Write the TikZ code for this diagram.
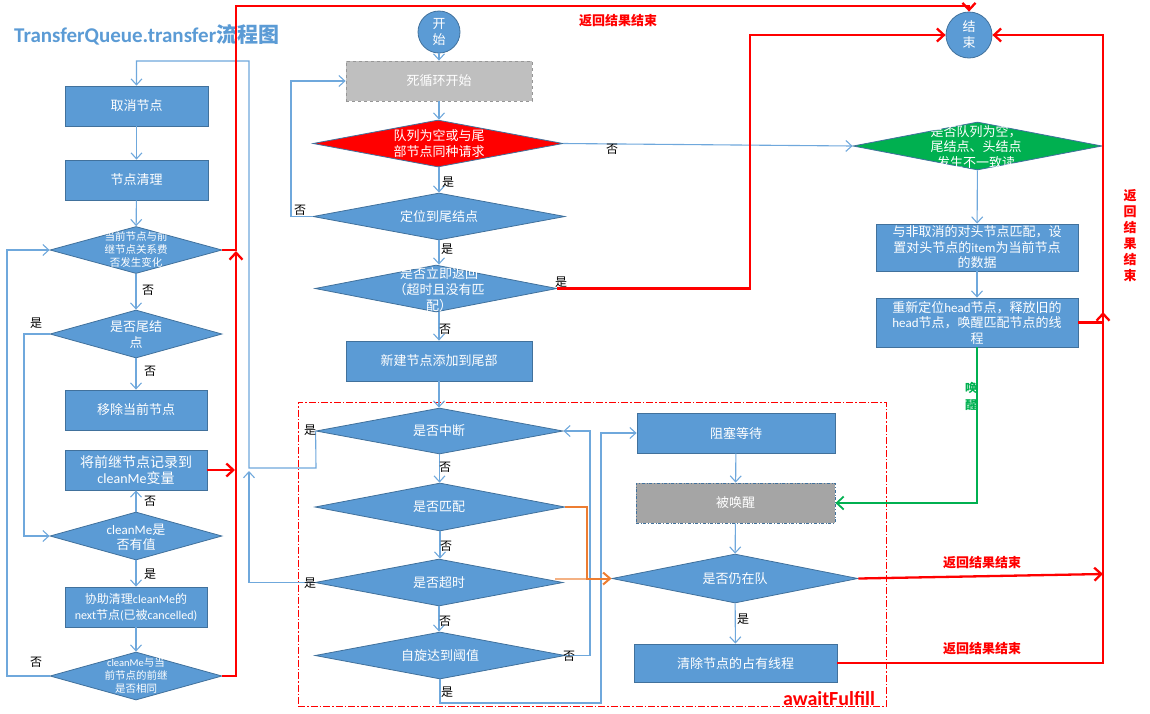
\documentclass[tikz,border=0pt]{standalone}
\usepackage{fontspec}
\setmainfont{Noto Sans CJK SC}
\newfontfamily\lat{Carlito}
\usetikzlibrary{shapes.geometric,arrows.meta}

\definecolor{boxblue}{HTML}{5B9BD5}
\definecolor{boxedge}{HTML}{41719C}
\definecolor{linkblue}{HTML}{6FA8DC}
\definecolor{flowred}{HTML}{FF0000}
\definecolor{flowgreen}{HTML}{00B050}
\definecolor{floworange}{HTML}{ED7D31}
\definecolor{grayA}{HTML}{BFBFBF}
\definecolor{grayB}{HTML}{A5A5A5}

\tikzset{
  boxnode/.style={draw=boxedge, fill=boxblue, line width=0.8pt, text=white,
    font=\fontsize{13}{16}\selectfont, align=center, inner sep=0pt},
  dianode/.style={diamond, draw=boxedge, fill=boxblue, line width=0.8pt, inner sep=0pt},
  dlab/.style={text=white, align=center, font=\fontsize{13}{16}\selectfont, inner sep=0pt},
  dlabs/.style={text=white, align=center, font=\fontsize{10.5}{13}\selectfont, inner sep=0pt},
  circnode/.style={circle, draw=boxedge, fill=boxblue, line width=0.8pt, text=white,
    align=center, font=\fontsize{13}{16}\selectfont, inner sep=0pt},
  graybox/.style={draw={rgb,255:red,150;green,150;blue,150}, dashed, fill=grayA, line width=0.8pt,
    text=white, font=\fontsize{13}{16}\selectfont, inner sep=0pt},
  graybox2/.style={draw=boxedge, dash dot, fill=grayB, line width=0.8pt,
    text=white, font=\fontsize{13}{16}\selectfont, inner sep=0pt},
  awaitbox/.style={draw=flowred, line width=0.9pt, dash pattern=on 7pt off 2pt on 1.5pt off 2pt, inner sep=0pt},
  link/.style={draw=linkblue, line width=1.1pt, -{Straight Barb[length=6pt,width=11pt]}},
  redlink/.style={draw=flowred, line width=2.3pt, -{Straight Barb[length=7pt,width=13pt]}},
  grnlink/.style={draw=flowgreen, line width=1.8pt, -{Straight Barb[length=7pt,width=13pt]}},
  orglink/.style={draw=floworange, line width=2pt, -{Straight Barb[length=7pt,width=12pt]}},
  orgfaint/.style={draw=floworange!60, line width=2pt},
  yn/.style={font=\fontsize{12}{12}\selectfont, inner sep=0pt, text=black},
  redtxt/.style={font=\fontsize{13}{16}\selectfont\bfseries, text=flowred, inner sep=0pt, align=center},
}

\begin{document}
\begin{tikzpicture}[x=1pt, y=-1pt]
\useasboundingbox (0,0) rectangle (1150,713);

% title
\node[font=\fontsize{21}{21}\selectfont\bfseries, text=boxblue, anchor=west, inner sep=0pt]
  (title) at (14,35) {{\lat TransferQueue.transfer}流程图};

% region of awaitFulfill
\node[awaitbox, minimum width=588, minimum height=304] (aw) at (592,554) {};
\node[font=\lat\bfseries\fontsize{20}{20}\selectfont, text=flowred, inner sep=0pt]
  (awlab) at (829,699) {awaitFulfill};

% ---------- left column: cleanup of a cancelled node ----------
\node[boxnode, minimum width=143, minimum height=40] (qx) at (136.5,106) {取消节点};
\node[boxnode, minimum width=143, minimum height=40] (ql) at (136.5,180) {节点清理};
\node[dianode, minimum width=172, minimum height=47] (d1) at (136,250) {};
\node[dlabs] (d1t) at (136,249) {当前节点与前\\继节点关系费\\否发生变化};
\node[dianode, minimum width=172, minimum height=48] (d2) at (136,334) {};
\node[dlab] (d2t) at (136,335) {是否尾结\\点};
\node[boxnode, minimum width=142, minimum height=40] (yc) at (136,410) {移除当前节点};
\node[boxnode, minimum width=142, minimum height=40, font=\fontsize{14}{16}\selectfont] (jl) at (136,470)
  {将前继节点记录到\\{\lat cleanMe}变量};
\node[dianode, minimum width=172, minimum height=48] (d3) at (136,536) {};
\node[dlab, font=\fontsize{13}{15}\selectfont] (d3t) at (136,537) {{\lat cleanMe}是\\否有值};
\node[boxnode, minimum width=142, minimum height=40, font=\fontsize{12}{16}\selectfont] (xz) at (136,607)
  {协助清理{\lat cleanMe}的\\{\lat next}节点{\lat (}已被{\lat cancelled)}};
\node[dianode, minimum width=172, minimum height=48] (d4) at (136,676) {};
\node[dlabs] (d4t) at (136,676) {{\lat cleanMe}与当\\前节点的前继\\是否相同};

% ---------- middle column: main loop ----------
\node[circnode, minimum size=42] (st) at (439,32) {开\\始};
\node[graybox, minimum width=186, minimum height=40] (loop) at (439,81) {死循环开始};
\node[dianode, fill=flowred, minimum width=250, minimum height=47] (dq) at (438,143.5) {};
\node[dlab] (dqt) at (439,144) {队列为空或与尾\\部节点同种请求};
\node[dianode, minimum width=252, minimum height=47] (dt) at (439,216.5) {};
\node[dlab] (dtt) at (439,216.5) {定位到尾结点};
\node[dianode, minimum width=242, minimum height=47] (dr) at (436,288.5) {};
\node[dlab] (drt) at (439,289.5) {是否立即返回\\（超时且没有匹\\配）};
\node[boxnode, minimum width=186, minimum height=40] (nw) at (439,361) {新建节点添加到尾部};
\node[dianode, minimum width=247, minimum height=46] (dz) at (439.5,431) {};
\node[dlab] (dzt) at (439,431) {是否中断};
\node[dianode, minimum width=250, minimum height=48] (dp) at (440,507) {};
\node[dlab] (dpt) at (439,507) {是否匹配};
\node[dianode, minimum width=248, minimum height=47] (dc) at (439,582.5) {};
\node[dlab] (dct) at (439,582.5) {是否超时};
\node[dianode, minimum width=250, minimum height=47] (ds) at (440,655.5) {};
\node[dlab] (dst) at (440,655.5) {自旋达到阈值};

% ---------- waiting branch ----------
\node[boxnode, minimum width=198, minimum height=40] (zs) at (736,433) {阻塞等待};
\node[graybox2, minimum width=199, minimum height=40] (bh) at (735.5,503) {被唤醒};
\node[dianode, minimum width=246, minimum height=49] (dn) at (735,578.5) {};
\node[dlab] (dnt) at (735,578.5) {是否仍在队};
\node[boxnode, minimum width=203, minimum height=38] (qc) at (735.5,663) {清除节点的占有线程};

% ---------- right column: matching ----------
\node[circnode, minimum size=46] (en) at (969,35) {结\\束};
\node[dianode, fill=flowgreen, minimum width=249, minimum height=48] (dg) at (977.5,146) {};
\node[dlab, font=\fontsize{13}{15.5}\selectfont] (dgt) at (976,147) {是否队列为空，\\尾结点、头结点\\发生不一致读};
\node[boxnode, minimum width=202, minimum height=47, font=\fontsize{13}{15.5}\selectfont] (b1) at (977,247.5)
  {与非取消的对头节点匹配，设\\置对头节点的{\lat item}为当前节点\\的数据};
\node[boxnode, minimum width=202, minimum height=49, font=\fontsize{13}{15.5}\selectfont] (b2) at (977,322.5)
  {重新定位{\lat head}节点，释放旧的\\{\lat head}节点，唤醒匹配节点的线\\程};

% ---------- connectors: left column ----------
\draw[link] (qx) -- (ql);
\draw[link] (ql) -- (d1);
\draw[link] (d1) -- (d2);
\draw[link] (d2) -- (yc);
\draw[link] (d3) -- (jl);
\draw[link] (d3) -- (xz);
\draw[link] (xz) -- (d4);
\draw[link] (d2.west) -- (24,334) -- (24,536) -- (d3.west);
\draw[link] (d4.west) -- (7,676) -- (7,250) -- (d1.west);

% ---------- connectors: main loop ----------
\draw[link] (st) -- (loop);
\draw[link] (loop) -- (loop.south |- dq.north);
\draw[link] (dq.south -| dt.north) -- (dt.north);
\draw[link] (dt.west) -- (291,216.5) -- (291,81) -- (loop.west);
\draw[link] (dt.south) -- (dt.south |- dr.north);
\draw[link] (nw.north |- dr.south) -- (nw.north);
\draw[link] (nw.south) -- (nw.south |- dz.north);
\draw[link] (dz.south) -- (dz.south |- dp.north);
\draw[link] (dp.south) -- (dp.south |- dc.north);
\draw[link] (dc.south) -- (dc.south |- ds.north);
\draw[link] (ds.east) -- (590,655.5) -- (590,431) -- (dz.east);
\draw[link] (ds.south) -- (440,703) -- (601,703) -- (601,433) -- (zs.west);
\draw[link] (dz.west) -- (316,468) -- (249,468) -- (249,61) -| (qx.north);
\draw[link] (dc.west) -| (249,471);
\coordinate (ostub) at (555,578.5);
\draw[orgfaint] (ostub) -- (587,578.5);
\draw[orglink] (dp.east) -- (587,507) -- (587,578.5) -- (dn.west);

% ---------- connectors: waiting branch and matching ----------
\draw[link] (zs) -- (bh);
\draw[link] (bh) -- (dn);
\draw[link] (dn) -- (qc);
\draw[link] (dq.east) -- (dg.west);
\draw[link] (dg) -- (b1);
\draw[link] (b1) -- (b2);
\draw[grnlink] (b2.south) -- (977,503) -- (bh.east);

% ---------- return paths ----------
\draw[redlink] (d1.east) -- (236,250) -- (236,6) -| (en.north);
\draw[redlink] (d4.east) -| (236,251);
\draw[redlink] (jl.east) -- (235,470);
\draw[redlink] (dr.east) -- (750,288.5) -- (750,35) -- (en.west);
\draw[redlink] (qc.east) -- (1103,663) -- (1103,35) -- (en.east);
\draw[redlink] (b2.east) -| (1103,312);
\draw[redlink] (dn.east) -- (1103,574);

% ---------- branch labels ----------
\node[yn] (l1) at (148,290) {否};
\node[yn] (l2) at (150,371) {否};
\node[yn] (l3) at (36,323) {是};
\node[yn] (l4) at (150,501) {否};
\node[yn] (l5) at (150,574) {是};
\node[yn] (l6) at (36,662) {否};
\node[yn] (l7) at (300,210) {否};
\node[yn] (l8) at (448,182) {是};
\node[yn] (l9) at (447,249) {是};
\node[yn] (l10) at (561,282) {是};
\node[yn] (l11) at (445,329) {否};
\node[yn] (l12) at (310,430) {是};
\node[yn] (l13) at (445,467) {否};
\node[yn] (l14) at (446,546) {否};
\node[yn] (l15) at (310,583) {是};
\node[yn] (l16) at (445,621) {否};
\node[yn] (l17) at (569,656) {否};
\node[yn] (l18) at (447,692) {是};
\node[yn] (l19) at (612,149) {否};
\node[yn] (l20) at (743,619) {是};

% ---------- return labels ----------
\node[redtxt] (r1) at (618,21) {返回结果结束};
\node[redtxt] (r2) at (982,563) {返回结果结束};
\node[redtxt] (r3) at (982,649) {返回结果结束};
\node[redtxt] (r4) at (1130,236) {返\\回\\结\\果\\结\\束};
\node[font=\fontsize{12}{17}\selectfont\bfseries, text=flowgreen, inner sep=0pt, align=center]
  (wk) at (971,396) {唤\\醒};
\end{tikzpicture}
\end{document}
